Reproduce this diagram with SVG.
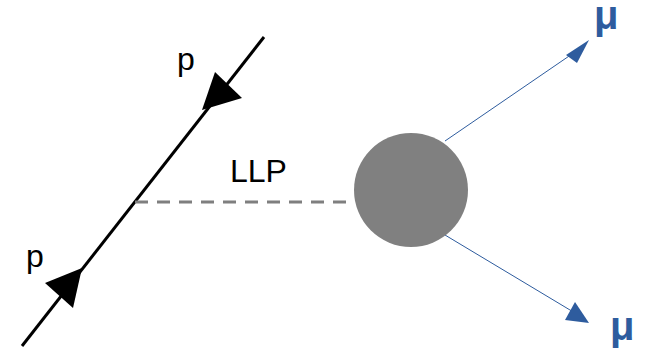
<svg xmlns="http://www.w3.org/2000/svg" width="646" height="353" viewBox="0 0 646 353">
<style>
.lbl{font-family:"Liberation Sans",Arial,sans-serif;fill:#000}
.mu{font-family:"Liberation Sans",Arial,sans-serif;font-weight:bold;fill:#2e5c9e}
</style>
<rect width="646" height="353" fill="#fff"/>
<g id="connectors">
<line x1="22" y1="346" x2="264" y2="37" stroke="#000" stroke-width="3"/>
<polygon points="202,110 215,72 242,98" fill="#000"/>
<polygon points="82,268 45,283 73,308" fill="#000"/>
<line x1="135" y1="202" x2="354" y2="202" stroke="#7f7f7f" stroke-width="3" stroke-dasharray="13,9"/>
<line x1="445" y1="141" x2="575" y2="52" stroke="#2e5c9e" stroke-width="1"/>
<polygon points="589,40 566,55 577,63" fill="#2e5c9e"/>
<line x1="445" y1="235" x2="575" y2="313" stroke="#2e5c9e" stroke-width="1"/>
<polygon points="589,323 575,302 565,320" fill="#2e5c9e"/>
</g>
<g id="blob"><circle cx="411" cy="190" r="57" fill="#808080"/></g>
<g id="p-top"><text class="lbl" x="177" y="70" font-size="32">p</text></g>
<g id="p-bottom"><text class="lbl" x="26" y="267" font-size="32">p</text></g>
<g id="llp"><text class="lbl" x="230" y="182" font-size="32">LLP</text></g>
<g id="mu-top"><text class="mu" x="594" y="29" font-size="40">μ</text></g>
<g id="mu-bottom"><text class="mu" x="610" y="340" font-size="40">μ</text></g>
</svg>
